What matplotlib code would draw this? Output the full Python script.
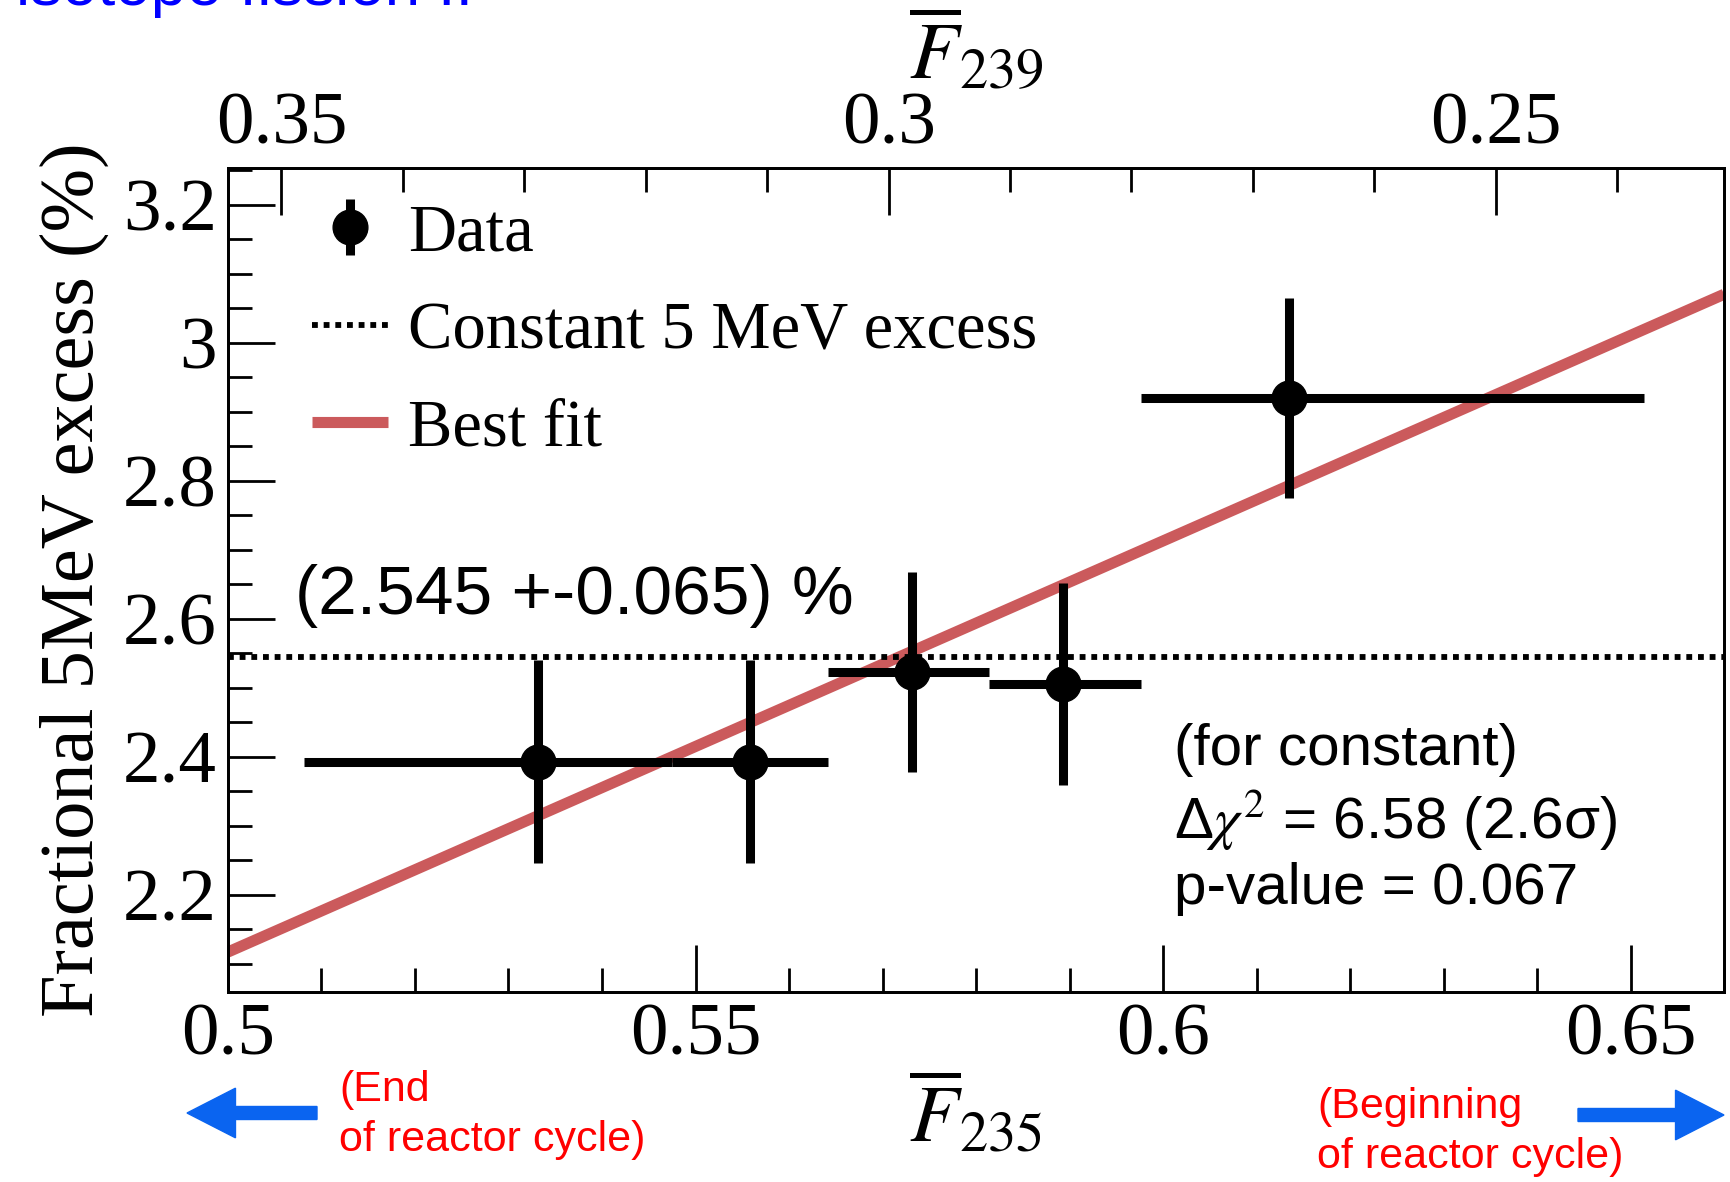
import numpy as np
import matplotlib.pyplot as plt
from matplotlib.ticker import MultipleLocator
from matplotlib.patches import FancyArrow
from matplotlib.legend_handler import HandlerErrorbar
from matplotlib.container import ErrorbarContainer

plt.rcParams['mathtext.fontset'] = 'stix'

# measured fractional 5 MeV excess vs. effective U235 fission fraction
f235 = np.array([0.5332, 0.5558, 0.5731, 0.5893, 0.6135])
bin_lo = np.array([0.5081, 0.5475, 0.5642, 0.5814, 0.5976])
bin_hi = np.array([0.5475, 0.5642, 0.5814, 0.5976, 0.6514])
excess = np.array([2.393, 2.393, 2.523, 2.505, 2.920])
excess_err = np.array([0.147, 0.147, 0.145, 0.146, 0.145])

const_excess = 2.545
fit_x = [0.5, 0.66]
fit_y = [2.117, 3.070]

# F239 range matching the F235 axis limits
f239_lim = (0.3544, 0.2312)

fig = plt.figure(figsize=(17.31, 11.82), dpi=100)
ax = fig.add_axes([0.1317, 0.1607, 0.8643, 0.6972])

serif = 'Liberation Serif'
sans = 'Liberation Sans'

ax.plot(fit_x, fit_y, color='#cb5a5c', lw=8, solid_capstyle='butt', label='Best fit', zorder=2)
ax.axhline(const_excess, color='black', lw=4.2, ls=(0, (1, 1)), label='Constant 5 MeV excess', zorder=3)
xerr = np.vstack([f235 - bin_lo, bin_hi - f235])
ax.errorbar(f235, excess, xerr=xerr, yerr=excess_err, fmt='o', color='black',
            ms=25, elinewidth=6.5, capsize=0, label='Data', zorder=4)

ax.set_xlim(0.5, 0.66)
ax.set_ylim(2.059, 3.253)
ax.xaxis.set_minor_locator(MultipleLocator(0.01))
ax.yaxis.set_minor_locator(MultipleLocator(0.05))
ax.set_xticks([0.5, 0.55, 0.6, 0.65])
ax.set_xticklabels(['0.5', '0.55', '0.6', '0.65'])
ax.set_yticks([2.2, 2.4, 2.6, 2.8, 3.0, 3.2])
ax.set_yticklabels(['2.2', '2.4', '2.6', '2.8', '3', '3.2'])
ax.tick_params(which='major', direction='in', length=34, width=2, labelsize=54, pad=8)
ax.tick_params(which='minor', direction='in', length=17, width=2)
ax.tick_params(axis='y', which='both', right=False)
for lab in ax.get_xticklabels() + ax.get_yticklabels():
    lab.set_family(serif)
for sp in ax.spines.values():
    sp.set_linewidth(2)

ax.set_ylabel('Fractional 5MeV excess (%)', family=serif, fontsize=55, labelpad=10)
ax.set_xlabel(r'$\overline{F}_{235}$', fontsize=58, va='center')
ax.xaxis.set_label_coords(0.5, -0.149)

# top axis: Pu239 fission fraction
top = ax.twiny()
top.set_xlim(*f239_lim)
top.xaxis.set_minor_locator(MultipleLocator(0.01))
top.set_xticks([0.35, 0.3, 0.25])
top.set_xticklabels(['0.35', '0.3', '0.25'])
top.tick_params(which='major', direction='in', length=34, width=2, labelsize=54, pad=6)
top.tick_params(which='minor', direction='in', length=17, width=2)
for lab in top.get_xticklabels():
    lab.set_family(serif)
top.set_xlabel(r'$\overline{F}_{239}$', fontsize=58, va='center')
top.xaxis.set_label_coords(0.5, 1.143)
for sp in top.spines.values():
    sp.set_linewidth(2)

handles, labels = ax.get_legend_handles_labels()
order = [2, 1, 0]
ax.legend([handles[i] for i in order], [labels[i] for i in order], loc='upper left',
          frameon=False, prop={'family': serif, 'size': 48}, handlelength=1.14,
          handletextpad=0.3, labelspacing=0.55, borderaxespad=0, borderpad=0,
          bbox_to_anchor=(0.056, 0.957),
          handler_map={ErrorbarContainer: HandlerErrorbar(xerr_size=0.0, yerr_size=0.42)})

ax.text(0.045, 0.48, '(2.545 +-0.065) %', transform=ax.transAxes, family=sans,
        fontsize=50, va='center', ha='left', zorder=5)
ax.text(0.632, 0.209, '(for constant)\n' + r'Δ$\chi^{2}$ = 6.58 (2.6σ)' + '\np-value = 0.067',
        transform=ax.transAxes, family=sans, fontsize=42, va='center', ha='left',
        linespacing=1.22)

# direction of the reactor cycle below the axis
blue = '#0a64f0'
fig.patches.append(FancyArrow(
    317 / 1731, 1 - 1113 / 1182, -130 / 1731, 0, width=0.011, head_width=0.042,
    head_length=0.028, length_includes_head=True, color=blue, transform=fig.transFigure))
fig.patches.append(FancyArrow(
    1578 / 1731, 1 - 1115 / 1182, 146 / 1731, 0, width=0.011, head_width=0.042,
    head_length=0.028, length_includes_head=True, color=blue, transform=fig.transFigure))
fig.text(339 / 1731, 1 - 1115 / 1182, '(End\nof reactor cycle)', color='red',
         family=sans, fontsize=31, va='center', ha='left', linespacing=1.35)
fig.text(1317 / 1731, 1 - 1132 / 1182, '(Beginning\nof reactor cycle)', color='red',
         family=sans, fontsize=31, va='center', ha='left', linespacing=1.35)

fig.text(473 / 1731, 1 - 5 / 1182, 'isotope fission II', color='#0000ff', family=sans,
         fontsize=46, va='baseline', ha='right')

fig.savefig('out.png', dpi=100)
